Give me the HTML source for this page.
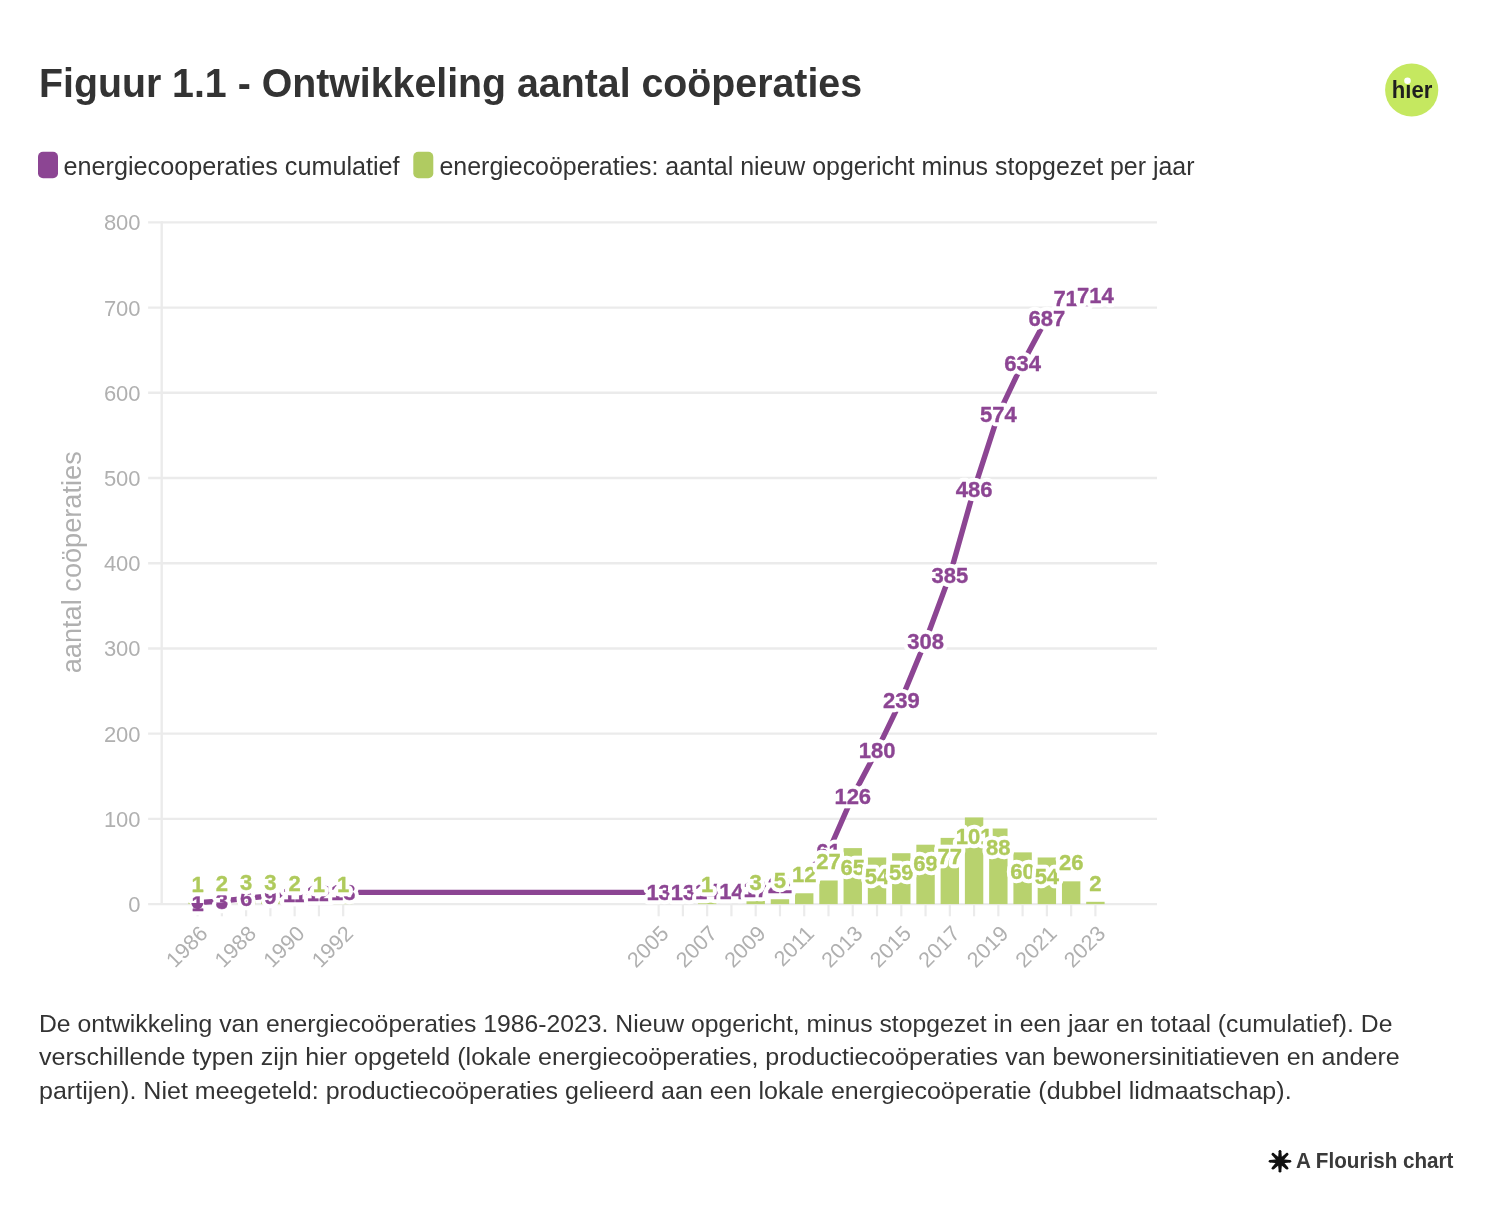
<!DOCTYPE html><html><head><meta charset="utf-8"><style>
html,body{margin:0;padding:0;background:#fff;}
svg{display:block;will-change:transform;}
text{font-family:"Liberation Sans",sans-serif;}
</style></head><body>
<svg width="1500" height="1225" viewBox="0 0 1500 1225">
<rect x="0" y="0" width="1500" height="1225" fill="#ffffff"/>
<text x="39" y="97" font-size="40" font-weight="bold" fill="#333333" textLength="823" lengthAdjust="spacingAndGlyphs">Figuur 1.1 - Ontwikkeling aantal coöperaties</text>
<circle cx="1411.7" cy="90" r="26.6" fill="#c5e860"/>
<text x="1391.8" y="98.2" font-size="23.3" font-weight="bold" fill="#1f1f1f" textLength="40.6" lengthAdjust="spacingAndGlyphs">hıer</text>
<circle cx="1407.5" cy="80.8" r="3.3" fill="#ffffff"/>
<rect x="38" y="151.7" width="20" height="26.5" rx="5" fill="#8c4593"/>
<text x="63.6" y="174.6" font-size="25" fill="#333333" textLength="336" lengthAdjust="spacingAndGlyphs">energiecooperaties cumulatief</text>
<rect x="413.3" y="151.7" width="20" height="26.5" rx="5" fill="#b0cb61"/>
<text x="439.5" y="174.6" font-size="25" fill="#333333" textLength="755" lengthAdjust="spacingAndGlyphs">energiecoöperaties: aantal nieuw opgericht minus stopgezet per jaar</text>
<line x1="148.1" y1="904.10" x2="1157" y2="904.10" stroke="#ebebeb" stroke-width="2.4"/>
<text x="140.6" y="912.00" font-size="22" fill="#b0b0b0" text-anchor="end">0</text>
<line x1="148.1" y1="818.89" x2="1157" y2="818.89" stroke="#ebebeb" stroke-width="2.4"/>
<text x="140.6" y="826.79" font-size="22" fill="#b0b0b0" text-anchor="end">100</text>
<line x1="148.1" y1="733.67" x2="1157" y2="733.67" stroke="#ebebeb" stroke-width="2.4"/>
<text x="140.6" y="741.57" font-size="22" fill="#b0b0b0" text-anchor="end">200</text>
<line x1="148.1" y1="648.46" x2="1157" y2="648.46" stroke="#ebebeb" stroke-width="2.4"/>
<text x="140.6" y="656.36" font-size="22" fill="#b0b0b0" text-anchor="end">300</text>
<line x1="148.1" y1="563.25" x2="1157" y2="563.25" stroke="#ebebeb" stroke-width="2.4"/>
<text x="140.6" y="571.15" font-size="22" fill="#b0b0b0" text-anchor="end">400</text>
<line x1="148.1" y1="478.04" x2="1157" y2="478.04" stroke="#ebebeb" stroke-width="2.4"/>
<text x="140.6" y="485.94" font-size="22" fill="#b0b0b0" text-anchor="end">500</text>
<line x1="148.1" y1="392.82" x2="1157" y2="392.82" stroke="#ebebeb" stroke-width="2.4"/>
<text x="140.6" y="400.72" font-size="22" fill="#b0b0b0" text-anchor="end">600</text>
<line x1="148.1" y1="307.61" x2="1157" y2="307.61" stroke="#ebebeb" stroke-width="2.4"/>
<text x="140.6" y="315.51" font-size="22" fill="#b0b0b0" text-anchor="end">700</text>
<line x1="148.1" y1="222.40" x2="1157" y2="222.40" stroke="#ebebeb" stroke-width="2.4"/>
<text x="140.6" y="230.30" font-size="22" fill="#b0b0b0" text-anchor="end">800</text>
<line x1="161.7" y1="221.20" x2="161.7" y2="904.10" stroke="#ebebeb" stroke-width="2.4"/>
<text transform="translate(81.3,562.25) rotate(-90)" font-size="27" fill="#b0b0b0" text-anchor="middle" textLength="222" lengthAdjust="spacingAndGlyphs">aantal coöperaties</text>
<line x1="197.60" y1="904.10" x2="197.60" y2="916.3" stroke="#ebebeb" stroke-width="2.2"/>
<line x1="221.87" y1="904.10" x2="221.87" y2="916.3" stroke="#ebebeb" stroke-width="2.2"/>
<line x1="246.13" y1="904.10" x2="246.13" y2="916.3" stroke="#ebebeb" stroke-width="2.2"/>
<line x1="270.39" y1="904.10" x2="270.39" y2="916.3" stroke="#ebebeb" stroke-width="2.2"/>
<line x1="294.66" y1="904.10" x2="294.66" y2="916.3" stroke="#ebebeb" stroke-width="2.2"/>
<line x1="318.93" y1="904.10" x2="318.93" y2="916.3" stroke="#ebebeb" stroke-width="2.2"/>
<line x1="343.19" y1="904.10" x2="343.19" y2="916.3" stroke="#ebebeb" stroke-width="2.2"/>
<line x1="658.63" y1="904.10" x2="658.63" y2="916.3" stroke="#ebebeb" stroke-width="2.2"/>
<line x1="682.90" y1="904.10" x2="682.90" y2="916.3" stroke="#ebebeb" stroke-width="2.2"/>
<line x1="707.16" y1="904.10" x2="707.16" y2="916.3" stroke="#ebebeb" stroke-width="2.2"/>
<line x1="731.43" y1="904.10" x2="731.43" y2="916.3" stroke="#ebebeb" stroke-width="2.2"/>
<line x1="755.70" y1="904.10" x2="755.70" y2="916.3" stroke="#ebebeb" stroke-width="2.2"/>
<line x1="779.96" y1="904.10" x2="779.96" y2="916.3" stroke="#ebebeb" stroke-width="2.2"/>
<line x1="804.23" y1="904.10" x2="804.23" y2="916.3" stroke="#ebebeb" stroke-width="2.2"/>
<line x1="828.49" y1="904.10" x2="828.49" y2="916.3" stroke="#ebebeb" stroke-width="2.2"/>
<line x1="852.75" y1="904.10" x2="852.75" y2="916.3" stroke="#ebebeb" stroke-width="2.2"/>
<line x1="877.02" y1="904.10" x2="877.02" y2="916.3" stroke="#ebebeb" stroke-width="2.2"/>
<line x1="901.29" y1="904.10" x2="901.29" y2="916.3" stroke="#ebebeb" stroke-width="2.2"/>
<line x1="925.55" y1="904.10" x2="925.55" y2="916.3" stroke="#ebebeb" stroke-width="2.2"/>
<line x1="949.82" y1="904.10" x2="949.82" y2="916.3" stroke="#ebebeb" stroke-width="2.2"/>
<line x1="974.08" y1="904.10" x2="974.08" y2="916.3" stroke="#ebebeb" stroke-width="2.2"/>
<line x1="998.35" y1="904.10" x2="998.35" y2="916.3" stroke="#ebebeb" stroke-width="2.2"/>
<line x1="1022.61" y1="904.10" x2="1022.61" y2="916.3" stroke="#ebebeb" stroke-width="2.2"/>
<line x1="1046.88" y1="904.10" x2="1046.88" y2="916.3" stroke="#ebebeb" stroke-width="2.2"/>
<line x1="1071.14" y1="904.10" x2="1071.14" y2="916.3" stroke="#ebebeb" stroke-width="2.2"/>
<line x1="1095.40" y1="904.10" x2="1095.40" y2="916.3" stroke="#ebebeb" stroke-width="2.2"/>
<text transform="translate(208.90,934.9) rotate(-45)" font-size="21.5" fill="#b0b0b0" text-anchor="end">1986</text>
<text transform="translate(257.43,934.9) rotate(-45)" font-size="21.5" fill="#b0b0b0" text-anchor="end">1988</text>
<text transform="translate(305.96,934.9) rotate(-45)" font-size="21.5" fill="#b0b0b0" text-anchor="end">1990</text>
<text transform="translate(354.49,934.9) rotate(-45)" font-size="21.5" fill="#b0b0b0" text-anchor="end">1992</text>
<text transform="translate(669.93,934.9) rotate(-45)" font-size="21.5" fill="#b0b0b0" text-anchor="end">2005</text>
<text transform="translate(718.46,934.9) rotate(-45)" font-size="21.5" fill="#b0b0b0" text-anchor="end">2007</text>
<text transform="translate(767.00,934.9) rotate(-45)" font-size="21.5" fill="#b0b0b0" text-anchor="end">2009</text>
<text transform="translate(815.52,934.9) rotate(-45)" font-size="21.5" fill="#b0b0b0" text-anchor="end">2011</text>
<text transform="translate(864.05,934.9) rotate(-45)" font-size="21.5" fill="#b0b0b0" text-anchor="end">2013</text>
<text transform="translate(912.59,934.9) rotate(-45)" font-size="21.5" fill="#b0b0b0" text-anchor="end">2015</text>
<text transform="translate(961.12,934.9) rotate(-45)" font-size="21.5" fill="#b0b0b0" text-anchor="end">2017</text>
<text transform="translate(1009.64,934.9) rotate(-45)" font-size="21.5" fill="#b0b0b0" text-anchor="end">2019</text>
<text transform="translate(1058.17,934.9) rotate(-45)" font-size="21.5" fill="#b0b0b0" text-anchor="end">2021</text>
<text transform="translate(1106.70,934.9) rotate(-45)" font-size="21.5" fill="#b0b0b0" text-anchor="end">2023</text>
<rect x="188.40" y="902.65" width="18.4" height="1.45" fill="#b8d26e"/>
<rect x="212.67" y="901.80" width="18.4" height="2.30" fill="#b8d26e"/>
<rect x="236.93" y="900.94" width="18.4" height="3.16" fill="#b8d26e"/>
<rect x="261.19" y="900.94" width="18.4" height="3.16" fill="#b8d26e"/>
<rect x="285.46" y="901.80" width="18.4" height="2.30" fill="#b8d26e"/>
<rect x="309.73" y="902.65" width="18.4" height="1.45" fill="#b8d26e"/>
<rect x="333.99" y="902.65" width="18.4" height="1.45" fill="#b8d26e"/>
<rect x="697.96" y="902.65" width="18.4" height="1.45" fill="#b8d26e"/>
<rect x="746.50" y="900.94" width="18.4" height="3.16" fill="#b8d26e"/>
<rect x="770.76" y="899.24" width="18.4" height="4.86" fill="#b8d26e"/>
<rect x="795.02" y="893.27" width="18.4" height="10.83" fill="#b8d26e"/>
<rect x="819.29" y="880.49" width="18.4" height="23.61" fill="#b8d26e"/>
<rect x="843.55" y="848.11" width="18.4" height="55.99" fill="#b8d26e"/>
<rect x="867.82" y="857.49" width="18.4" height="46.61" fill="#b8d26e"/>
<rect x="892.09" y="853.22" width="18.4" height="50.88" fill="#b8d26e"/>
<rect x="916.35" y="844.70" width="18.4" height="59.40" fill="#b8d26e"/>
<rect x="940.62" y="837.89" width="18.4" height="66.21" fill="#b8d26e"/>
<rect x="964.88" y="817.44" width="18.4" height="86.66" fill="#b8d26e"/>
<rect x="989.14" y="828.51" width="18.4" height="75.59" fill="#b8d26e"/>
<rect x="1013.41" y="852.37" width="18.4" height="51.73" fill="#b8d26e"/>
<rect x="1037.67" y="857.49" width="18.4" height="46.61" fill="#b8d26e"/>
<rect x="1061.94" y="881.34" width="18.4" height="22.76" fill="#b8d26e"/>
<rect x="1086.20" y="901.80" width="18.4" height="2.30" fill="#b8d26e"/>
<polyline points="197.60,902.65 221.87,900.94 246.13,898.39 270.39,895.83 294.66,894.13 318.93,893.27 343.19,892.42 658.63,892.42 682.90,892.42 707.16,891.57 731.43,891.57 755.70,889.01 779.96,884.75 804.23,874.53 828.49,851.52 852.75,796.13 877.02,750.12 901.29,699.84 925.55,641.05 949.82,575.43 974.08,489.37 998.35,414.38 1022.61,363.25 1046.88,318.09 1071.14,297.64 1095.40,295.08" fill="none" stroke="#8c4593" stroke-width="5.4" stroke-linejoin="round" stroke-linecap="round"/>
<text x="197.60" y="910.52" font-size="22" font-weight="bold" fill="#fff" text-anchor="middle" stroke="#fff" stroke-width="8.5" stroke-linejoin="round">1</text>
<text x="197.60" y="910.52" font-size="22" font-weight="bold" fill="#8c4593" text-anchor="middle" stroke="#8c4593" stroke-width="0.35" stroke-linejoin="round">1</text>
<text x="221.87" y="908.82" font-size="22" font-weight="bold" fill="#fff" text-anchor="middle" stroke="#fff" stroke-width="8.5" stroke-linejoin="round">3</text>
<text x="221.87" y="908.82" font-size="22" font-weight="bold" fill="#8c4593" text-anchor="middle" stroke="#8c4593" stroke-width="0.35" stroke-linejoin="round">3</text>
<text x="246.13" y="906.26" font-size="22" font-weight="bold" fill="#fff" text-anchor="middle" stroke="#fff" stroke-width="8.5" stroke-linejoin="round">6</text>
<text x="246.13" y="906.26" font-size="22" font-weight="bold" fill="#8c4593" text-anchor="middle" stroke="#8c4593" stroke-width="0.35" stroke-linejoin="round">6</text>
<text x="270.39" y="903.71" font-size="22" font-weight="bold" fill="#fff" text-anchor="middle" stroke="#fff" stroke-width="8.5" stroke-linejoin="round">9</text>
<text x="270.39" y="903.71" font-size="22" font-weight="bold" fill="#8c4593" text-anchor="middle" stroke="#8c4593" stroke-width="0.35" stroke-linejoin="round">9</text>
<text x="294.66" y="902.00" font-size="22" font-weight="bold" fill="#fff" text-anchor="middle" stroke="#fff" stroke-width="8.5" stroke-linejoin="round">11</text>
<text x="294.66" y="902.00" font-size="22" font-weight="bold" fill="#8c4593" text-anchor="middle" stroke="#8c4593" stroke-width="0.35" stroke-linejoin="round">11</text>
<text x="318.93" y="901.15" font-size="22" font-weight="bold" fill="#fff" text-anchor="middle" stroke="#fff" stroke-width="8.5" stroke-linejoin="round">12</text>
<text x="318.93" y="901.15" font-size="22" font-weight="bold" fill="#8c4593" text-anchor="middle" stroke="#8c4593" stroke-width="0.35" stroke-linejoin="round">12</text>
<text x="343.19" y="900.30" font-size="22" font-weight="bold" fill="#fff" text-anchor="middle" stroke="#fff" stroke-width="8.5" stroke-linejoin="round">13</text>
<text x="343.19" y="900.30" font-size="22" font-weight="bold" fill="#8c4593" text-anchor="middle" stroke="#8c4593" stroke-width="0.35" stroke-linejoin="round">13</text>
<text x="658.63" y="900.30" font-size="22" font-weight="bold" fill="#fff" text-anchor="middle" stroke="#fff" stroke-width="8.5" stroke-linejoin="round">13</text>
<text x="658.63" y="900.30" font-size="22" font-weight="bold" fill="#8c4593" text-anchor="middle" stroke="#8c4593" stroke-width="0.35" stroke-linejoin="round">13</text>
<text x="682.90" y="900.30" font-size="22" font-weight="bold" fill="#fff" text-anchor="middle" stroke="#fff" stroke-width="8.5" stroke-linejoin="round">13</text>
<text x="682.90" y="900.30" font-size="22" font-weight="bold" fill="#8c4593" text-anchor="middle" stroke="#8c4593" stroke-width="0.35" stroke-linejoin="round">13</text>
<text x="707.16" y="899.45" font-size="22" font-weight="bold" fill="#fff" text-anchor="middle" stroke="#fff" stroke-width="8.5" stroke-linejoin="round">14</text>
<text x="707.16" y="899.45" font-size="22" font-weight="bold" fill="#8c4593" text-anchor="middle" stroke="#8c4593" stroke-width="0.35" stroke-linejoin="round">14</text>
<text x="731.43" y="899.45" font-size="22" font-weight="bold" fill="#fff" text-anchor="middle" stroke="#fff" stroke-width="8.5" stroke-linejoin="round">14</text>
<text x="731.43" y="899.45" font-size="22" font-weight="bold" fill="#8c4593" text-anchor="middle" stroke="#8c4593" stroke-width="0.35" stroke-linejoin="round">14</text>
<text x="755.70" y="896.89" font-size="22" font-weight="bold" fill="#fff" text-anchor="middle" stroke="#fff" stroke-width="8.5" stroke-linejoin="round">17</text>
<text x="755.70" y="896.89" font-size="22" font-weight="bold" fill="#8c4593" text-anchor="middle" stroke="#8c4593" stroke-width="0.35" stroke-linejoin="round">17</text>
<text x="779.96" y="892.63" font-size="22" font-weight="bold" fill="#fff" text-anchor="middle" stroke="#fff" stroke-width="8.5" stroke-linejoin="round">22</text>
<text x="779.96" y="892.63" font-size="22" font-weight="bold" fill="#8c4593" text-anchor="middle" stroke="#8c4593" stroke-width="0.35" stroke-linejoin="round">22</text>
<text x="804.23" y="882.40" font-size="22" font-weight="bold" fill="#fff" text-anchor="middle" stroke="#fff" stroke-width="8.5" stroke-linejoin="round">34</text>
<text x="804.23" y="882.40" font-size="22" font-weight="bold" fill="#8c4593" text-anchor="middle" stroke="#8c4593" stroke-width="0.35" stroke-linejoin="round">34</text>
<text x="828.49" y="859.40" font-size="22" font-weight="bold" fill="#fff" text-anchor="middle" stroke="#fff" stroke-width="8.5" stroke-linejoin="round">61</text>
<text x="828.49" y="859.40" font-size="22" font-weight="bold" fill="#8c4593" text-anchor="middle" stroke="#8c4593" stroke-width="0.35" stroke-linejoin="round">61</text>
<text x="852.75" y="804.01" font-size="22" font-weight="bold" fill="#fff" text-anchor="middle" stroke="#fff" stroke-width="8.5" stroke-linejoin="round">126</text>
<text x="852.75" y="804.01" font-size="22" font-weight="bold" fill="#8c4593" text-anchor="middle" stroke="#8c4593" stroke-width="0.35" stroke-linejoin="round">126</text>
<text x="877.02" y="757.99" font-size="22" font-weight="bold" fill="#fff" text-anchor="middle" stroke="#fff" stroke-width="8.5" stroke-linejoin="round">180</text>
<text x="877.02" y="757.99" font-size="22" font-weight="bold" fill="#8c4593" text-anchor="middle" stroke="#8c4593" stroke-width="0.35" stroke-linejoin="round">180</text>
<text x="901.29" y="707.72" font-size="22" font-weight="bold" fill="#fff" text-anchor="middle" stroke="#fff" stroke-width="8.5" stroke-linejoin="round">239</text>
<text x="901.29" y="707.72" font-size="22" font-weight="bold" fill="#8c4593" text-anchor="middle" stroke="#8c4593" stroke-width="0.35" stroke-linejoin="round">239</text>
<text x="925.55" y="648.92" font-size="22" font-weight="bold" fill="#fff" text-anchor="middle" stroke="#fff" stroke-width="8.5" stroke-linejoin="round">308</text>
<text x="925.55" y="648.92" font-size="22" font-weight="bold" fill="#8c4593" text-anchor="middle" stroke="#8c4593" stroke-width="0.35" stroke-linejoin="round">308</text>
<text x="949.82" y="583.31" font-size="22" font-weight="bold" fill="#fff" text-anchor="middle" stroke="#fff" stroke-width="8.5" stroke-linejoin="round">385</text>
<text x="949.82" y="583.31" font-size="22" font-weight="bold" fill="#8c4593" text-anchor="middle" stroke="#8c4593" stroke-width="0.35" stroke-linejoin="round">385</text>
<text x="974.08" y="497.24" font-size="22" font-weight="bold" fill="#fff" text-anchor="middle" stroke="#fff" stroke-width="8.5" stroke-linejoin="round">486</text>
<text x="974.08" y="497.24" font-size="22" font-weight="bold" fill="#8c4593" text-anchor="middle" stroke="#8c4593" stroke-width="0.35" stroke-linejoin="round">486</text>
<text x="998.35" y="422.26" font-size="22" font-weight="bold" fill="#fff" text-anchor="middle" stroke="#fff" stroke-width="8.5" stroke-linejoin="round">574</text>
<text x="998.35" y="422.26" font-size="22" font-weight="bold" fill="#8c4593" text-anchor="middle" stroke="#8c4593" stroke-width="0.35" stroke-linejoin="round">574</text>
<text x="1022.61" y="371.13" font-size="22" font-weight="bold" fill="#fff" text-anchor="middle" stroke="#fff" stroke-width="8.5" stroke-linejoin="round">634</text>
<text x="1022.61" y="371.13" font-size="22" font-weight="bold" fill="#8c4593" text-anchor="middle" stroke="#8c4593" stroke-width="0.35" stroke-linejoin="round">634</text>
<text x="1046.88" y="325.97" font-size="22" font-weight="bold" fill="#fff" text-anchor="middle" stroke="#fff" stroke-width="8.5" stroke-linejoin="round">687</text>
<text x="1046.88" y="325.97" font-size="22" font-weight="bold" fill="#8c4593" text-anchor="middle" stroke="#8c4593" stroke-width="0.35" stroke-linejoin="round">687</text>
<text x="1071.14" y="305.52" font-size="22" font-weight="bold" fill="#fff" text-anchor="middle" stroke="#fff" stroke-width="8.5" stroke-linejoin="round">711</text>
<text x="1071.14" y="305.52" font-size="22" font-weight="bold" fill="#8c4593" text-anchor="middle" stroke="#8c4593" stroke-width="0.35" stroke-linejoin="round">711</text>
<text x="1095.40" y="302.96" font-size="22" font-weight="bold" fill="#fff" text-anchor="middle" stroke="#fff" stroke-width="8.5" stroke-linejoin="round">714</text>
<text x="1095.40" y="302.96" font-size="22" font-weight="bold" fill="#8c4593" text-anchor="middle" stroke="#8c4593" stroke-width="0.35" stroke-linejoin="round">714</text>
<path d="M191.40,903.00 A6.0,6.0 0 0 0 203.40,903.00 Z" fill="#8c4593"/>
<path d="M216.20,902.50 A5.7,5.7 0 0 0 227.60,902.50 Z" fill="#8c4593"/>
<text x="197.60" y="891.52" font-size="22" font-weight="bold" fill="#fff" text-anchor="middle" stroke="#fff" stroke-width="8.5" stroke-linejoin="round">1</text>
<text x="197.60" y="891.52" font-size="22" font-weight="bold" fill="#afca5c" text-anchor="middle" stroke="#afca5c" stroke-width="0.35" stroke-linejoin="round">1</text>
<text x="221.87" y="890.67" font-size="22" font-weight="bold" fill="#fff" text-anchor="middle" stroke="#fff" stroke-width="8.5" stroke-linejoin="round">2</text>
<text x="221.87" y="890.67" font-size="22" font-weight="bold" fill="#afca5c" text-anchor="middle" stroke="#afca5c" stroke-width="0.35" stroke-linejoin="round">2</text>
<text x="246.13" y="889.82" font-size="22" font-weight="bold" fill="#fff" text-anchor="middle" stroke="#fff" stroke-width="8.5" stroke-linejoin="round">3</text>
<text x="246.13" y="889.82" font-size="22" font-weight="bold" fill="#afca5c" text-anchor="middle" stroke="#afca5c" stroke-width="0.35" stroke-linejoin="round">3</text>
<text x="270.39" y="889.82" font-size="22" font-weight="bold" fill="#fff" text-anchor="middle" stroke="#fff" stroke-width="8.5" stroke-linejoin="round">3</text>
<text x="270.39" y="889.82" font-size="22" font-weight="bold" fill="#afca5c" text-anchor="middle" stroke="#afca5c" stroke-width="0.35" stroke-linejoin="round">3</text>
<text x="294.66" y="890.67" font-size="22" font-weight="bold" fill="#fff" text-anchor="middle" stroke="#fff" stroke-width="8.5" stroke-linejoin="round">2</text>
<text x="294.66" y="890.67" font-size="22" font-weight="bold" fill="#afca5c" text-anchor="middle" stroke="#afca5c" stroke-width="0.35" stroke-linejoin="round">2</text>
<text x="318.93" y="891.52" font-size="22" font-weight="bold" fill="#fff" text-anchor="middle" stroke="#fff" stroke-width="8.5" stroke-linejoin="round">1</text>
<text x="318.93" y="891.52" font-size="22" font-weight="bold" fill="#afca5c" text-anchor="middle" stroke="#afca5c" stroke-width="0.35" stroke-linejoin="round">1</text>
<text x="343.19" y="891.52" font-size="22" font-weight="bold" fill="#fff" text-anchor="middle" stroke="#fff" stroke-width="8.5" stroke-linejoin="round">1</text>
<text x="343.19" y="891.52" font-size="22" font-weight="bold" fill="#afca5c" text-anchor="middle" stroke="#afca5c" stroke-width="0.35" stroke-linejoin="round">1</text>
<text x="707.16" y="891.52" font-size="22" font-weight="bold" fill="#fff" text-anchor="middle" stroke="#fff" stroke-width="8.5" stroke-linejoin="round">1</text>
<text x="707.16" y="891.52" font-size="22" font-weight="bold" fill="#afca5c" text-anchor="middle" stroke="#afca5c" stroke-width="0.35" stroke-linejoin="round">1</text>
<text x="755.70" y="889.82" font-size="22" font-weight="bold" fill="#fff" text-anchor="middle" stroke="#fff" stroke-width="8.5" stroke-linejoin="round">3</text>
<text x="755.70" y="889.82" font-size="22" font-weight="bold" fill="#afca5c" text-anchor="middle" stroke="#afca5c" stroke-width="0.35" stroke-linejoin="round">3</text>
<text x="779.96" y="888.12" font-size="22" font-weight="bold" fill="#fff" text-anchor="middle" stroke="#fff" stroke-width="8.5" stroke-linejoin="round">5</text>
<text x="779.96" y="888.12" font-size="22" font-weight="bold" fill="#afca5c" text-anchor="middle" stroke="#afca5c" stroke-width="0.35" stroke-linejoin="round">5</text>
<text x="804.23" y="882.15" font-size="22" font-weight="bold" fill="#fff" text-anchor="middle" stroke="#fff" stroke-width="8.5" stroke-linejoin="round">12</text>
<text x="804.23" y="882.15" font-size="22" font-weight="bold" fill="#afca5c" text-anchor="middle" stroke="#afca5c" stroke-width="0.35" stroke-linejoin="round">12</text>
<text x="828.49" y="869.37" font-size="22" font-weight="bold" fill="#fff" text-anchor="middle" stroke="#fff" stroke-width="8.5" stroke-linejoin="round">27</text>
<text x="828.49" y="869.37" font-size="22" font-weight="bold" fill="#afca5c" text-anchor="middle" stroke="#afca5c" stroke-width="0.35" stroke-linejoin="round">27</text>
<text x="852.75" y="874.69" font-size="22" font-weight="bold" fill="#fff" text-anchor="middle" stroke="#fff" stroke-width="8.5" stroke-linejoin="round">65</text>
<text x="852.75" y="874.69" font-size="22" font-weight="bold" fill="#afca5c" text-anchor="middle" stroke="#afca5c" stroke-width="0.35" stroke-linejoin="round">65</text>
<text x="877.02" y="884.06" font-size="22" font-weight="bold" fill="#fff" text-anchor="middle" stroke="#fff" stroke-width="8.5" stroke-linejoin="round">54</text>
<text x="877.02" y="884.06" font-size="22" font-weight="bold" fill="#afca5c" text-anchor="middle" stroke="#afca5c" stroke-width="0.35" stroke-linejoin="round">54</text>
<text x="901.29" y="879.80" font-size="22" font-weight="bold" fill="#fff" text-anchor="middle" stroke="#fff" stroke-width="8.5" stroke-linejoin="round">59</text>
<text x="901.29" y="879.80" font-size="22" font-weight="bold" fill="#afca5c" text-anchor="middle" stroke="#afca5c" stroke-width="0.35" stroke-linejoin="round">59</text>
<text x="925.55" y="871.28" font-size="22" font-weight="bold" fill="#fff" text-anchor="middle" stroke="#fff" stroke-width="8.5" stroke-linejoin="round">69</text>
<text x="925.55" y="871.28" font-size="22" font-weight="bold" fill="#afca5c" text-anchor="middle" stroke="#afca5c" stroke-width="0.35" stroke-linejoin="round">69</text>
<text x="949.82" y="864.46" font-size="22" font-weight="bold" fill="#fff" text-anchor="middle" stroke="#fff" stroke-width="8.5" stroke-linejoin="round">77</text>
<text x="949.82" y="864.46" font-size="22" font-weight="bold" fill="#afca5c" text-anchor="middle" stroke="#afca5c" stroke-width="0.35" stroke-linejoin="round">77</text>
<text x="974.08" y="844.01" font-size="22" font-weight="bold" fill="#fff" text-anchor="middle" stroke="#fff" stroke-width="8.5" stroke-linejoin="round">101</text>
<text x="974.08" y="844.01" font-size="22" font-weight="bold" fill="#afca5c" text-anchor="middle" stroke="#afca5c" stroke-width="0.35" stroke-linejoin="round">101</text>
<text x="998.35" y="855.09" font-size="22" font-weight="bold" fill="#fff" text-anchor="middle" stroke="#fff" stroke-width="8.5" stroke-linejoin="round">88</text>
<text x="998.35" y="855.09" font-size="22" font-weight="bold" fill="#afca5c" text-anchor="middle" stroke="#afca5c" stroke-width="0.35" stroke-linejoin="round">88</text>
<text x="1022.61" y="878.95" font-size="22" font-weight="bold" fill="#fff" text-anchor="middle" stroke="#fff" stroke-width="8.5" stroke-linejoin="round">60</text>
<text x="1022.61" y="878.95" font-size="22" font-weight="bold" fill="#afca5c" text-anchor="middle" stroke="#afca5c" stroke-width="0.35" stroke-linejoin="round">60</text>
<text x="1046.88" y="884.06" font-size="22" font-weight="bold" fill="#fff" text-anchor="middle" stroke="#fff" stroke-width="8.5" stroke-linejoin="round">54</text>
<text x="1046.88" y="884.06" font-size="22" font-weight="bold" fill="#afca5c" text-anchor="middle" stroke="#afca5c" stroke-width="0.35" stroke-linejoin="round">54</text>
<text x="1071.14" y="870.22" font-size="22" font-weight="bold" fill="#fff" text-anchor="middle" stroke="#fff" stroke-width="8.5" stroke-linejoin="round">26</text>
<text x="1071.14" y="870.22" font-size="22" font-weight="bold" fill="#afca5c" text-anchor="middle" stroke="#afca5c" stroke-width="0.35" stroke-linejoin="round">26</text>
<text x="1095.40" y="890.67" font-size="22" font-weight="bold" fill="#fff" text-anchor="middle" stroke="#fff" stroke-width="8.5" stroke-linejoin="round">2</text>
<text x="1095.40" y="890.67" font-size="22" font-weight="bold" fill="#afca5c" text-anchor="middle" stroke="#afca5c" stroke-width="0.35" stroke-linejoin="round">2</text>
<text x="39" y="1031.5" font-size="24.6" fill="#333333" textLength="1353.5" lengthAdjust="spacingAndGlyphs">De ontwikkeling van energiecoöperaties 1986-2023. Nieuw opgericht, minus stopgezet in een jaar en totaal (cumulatief). De</text>
<text x="39" y="1065.3" font-size="24.6" fill="#333333" textLength="1360.7" lengthAdjust="spacingAndGlyphs">verschillende typen zijn hier opgeteld (lokale energiecoöperaties, productiecoöperaties van bewonersinitiatieven en andere</text>
<text x="39" y="1098.7" font-size="24.6" fill="#333333" textLength="1252.6" lengthAdjust="spacingAndGlyphs">partijen). Niet meegeteld: productiecoöperaties gelieerd aan een lokale energiecoöperatie (dubbel lidmaatschap).</text>
<polygon points="1280.00,1163.50 1290.00,1162.50 1290.00,1159.90 1280.00,1158.90" fill="#111"/><circle cx="1290.00" cy="1161.20" r="1.3" fill="#111"/><polygon points="1278.37,1162.83 1286.15,1169.19 1287.99,1167.35 1281.63,1159.57" fill="#111"/><circle cx="1287.07" cy="1168.27" r="1.3" fill="#111"/><polygon points="1277.70,1161.20 1278.70,1171.20 1281.30,1171.20 1282.30,1161.20" fill="#111"/><circle cx="1280.00" cy="1171.20" r="1.3" fill="#111"/><polygon points="1278.37,1159.57 1272.01,1167.35 1273.85,1169.19 1281.63,1162.83" fill="#111"/><circle cx="1272.93" cy="1168.27" r="1.3" fill="#111"/><polygon points="1280.00,1158.90 1270.00,1159.90 1270.00,1162.50 1280.00,1163.50" fill="#111"/><circle cx="1270.00" cy="1161.20" r="1.3" fill="#111"/><polygon points="1281.63,1159.57 1273.85,1153.21 1272.01,1155.05 1278.37,1162.83" fill="#111"/><circle cx="1272.93" cy="1154.13" r="1.3" fill="#111"/><polygon points="1282.30,1161.20 1281.30,1151.20 1278.70,1151.20 1277.70,1161.20" fill="#111"/><circle cx="1280.00" cy="1151.20" r="1.3" fill="#111"/><polygon points="1281.63,1162.83 1287.99,1155.05 1286.15,1153.21 1278.37,1159.57" fill="#111"/><circle cx="1287.07" cy="1154.13" r="1.3" fill="#111"/>
<circle cx="1280.0" cy="1161.2" r="4.3" fill="#111"/>
<text x="1296" y="1167.7" font-size="22" font-weight="bold" fill="#3a3a3a" textLength="157.5" lengthAdjust="spacingAndGlyphs">A Flourish chart</text>
</svg></body></html>
